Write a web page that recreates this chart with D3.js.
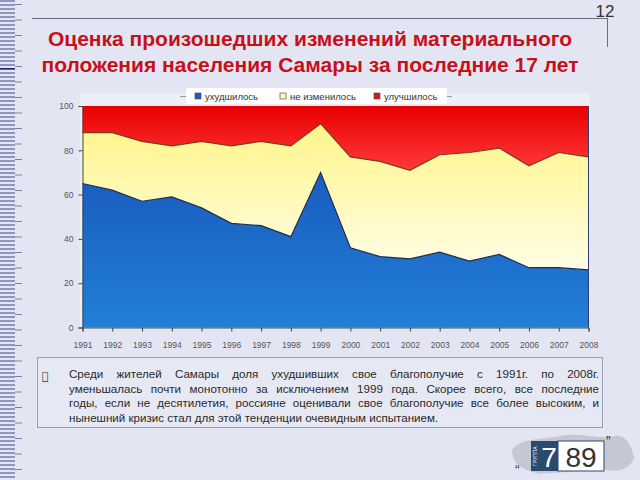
<!DOCTYPE html>
<html><head><meta charset="utf-8">
<script src="https://cdn.jsdelivr.net/npm/d3@7"></script>
<style>
body{margin:0;background:#e3e5f3;font-family:"Liberation Sans",Arial,sans-serif;}
#wrap{position:relative;width:640px;height:480px;overflow:hidden;}
svg{position:absolute;left:0;top:0;}
#note{position:absolute;left:37px;top:357px;width:566px;height:71px;border:1px solid #9a9cad;background:#e6e8f4;box-sizing:border-box;}
#note .b{position:absolute;left:4px;top:12px;font-size:11px;color:#333;font-family:"DejaVu Sans";}
#note .t{position:absolute;left:31px;top:9px;width:530px;font-size:11.6px;line-height:14.6px;color:#2a2a2a;}
#note .t div{text-align:justify;text-align-last:justify;white-space:nowrap;}
#note .t div.last{text-align-last:left;}
</style></head>
<body><div id="wrap"><svg id="chart" width="640" height="480"></svg>
<div id="note"><span class="b">&#xF0A7;</span><div class="t">
<div>Среди жителей Самары доля ухудшивших свое благополучие с 1991г. по 2008г.</div>
<div>уменьшалась почти монотонно за исключением 1999 года. Скорее всего, все последние</div>
<div>годы, если не десятилетия, россияне оценивали свое благополучие все более высоким, и</div>
<div class="last">нынешний кризис стал для этой тенденции очевидным испытанием.</div>
</div></div></div>
<script>
const years = ["1991","1992","1993","1994","1995","1996","1997","1998","1999","2000","2001","2002","2003","2004","2005","2006","2007","2008"];
const worse     = [65,62,57,59,54,47,46,41,70,36,32,31,34,30,33,27,27,26];
const unchanged = [23,26,27,23,30,35,38,41,22,41,43,40,44,49,48,46,52,51];
const improved  = [12,12,16,18,16,18,16,18,8,23,25,29,22,21,19,27,21,23];
const seriesNames = ["ухудшилось","не изменилось","улучшилось"];
const yTicks = [0,20,40,60,80,100];
const titleLines = ["Оценка произошедших изменений материального","положения населения Самары за последние 17 лет"];

const svg = d3.select("#chart");
const defs = svg.append("defs");
function grad(id, c1, c2){
  const g = defs.append("linearGradient").attr("id",id).attr("x1",0).attr("y1",0).attr("x2",0).attr("y2",1);
  g.append("stop").attr("offset","0%").attr("stop-color",c1);
  g.append("stop").attr("offset","100%").attr("stop-color",c2);
}
grad("gBlue","#1a5cbf","#217fd6");
grad("gYellow","#fff58a","#fffde6");
grad("gRed","#e80000","#ff3a3a");

// left striped border
const stripes = svg.append("g");
d3.range(0,480,4).forEach(y=>{
  stripes.append("rect").attr("x",0).attr("y",y).attr("width",15).attr("height",2).attr("fill","#8f96c2");
});
d3.range(4,480,15.5).forEach(y=>{
  stripes.append("rect").attr("x",15).attr("y",y).attr("width",7).attr("height",1).attr("fill","#7a80a8");
});
svg.append("rect").attr("x",0).attr("y",68).attr("width",15).attr("height",1.5).attr("fill","#1a2a80");

// top line + page number
svg.append("line").attr("x1",32).attr("x2",607).attr("y1",18.5).attr("y2",18.5).attr("stroke","#6a6e88").attr("stroke-width",1);
svg.append("line").attr("x1",607.5).attr("x2",607.5).attr("y1",18).attr("y2",47).attr("stroke","#6a6e88").attr("stroke-width",1);
svg.append("text").attr("x",605).attr("y",17).attr("text-anchor","middle").attr("font-size",17).attr("fill","#333").text("12");

// title
svg.append("g").selectAll("text").data(titleLines).join("text")
  .attr("x",310).attr("y",(d,i)=>46+i*26).attr("text-anchor","middle")
  .attr("font-size",21).attr("font-weight","bold").attr("fill","#c8101a").text(d=>d);

// chart
const x = d3.scalePoint().domain(years).range([82.5,588.5]);
const y = d3.scaleLinear().domain([0,100]).range([327.5,106]);

svg.append("rect").attr("x",80).attr("y",93).attr("width",510).attr("height",236).attr("fill","#eceef7");

const rows = years.map((yr,i)=>({year:yr, a:worse[i], b:unchanged[i], c:improved[i]}));
const stack = d3.stack().keys(["a","b","c"])(rows);
const fills = ["url(#gBlue)","url(#gYellow)","url(#gRed)"];
const area = d3.area().x(d=>x(d.data.year)).y0(d=>y(d[0])).y1(d=>y(d[1]));
svg.append("g").selectAll("path").data(stack).join("path")
  .attr("d",area).attr("fill",(d,i)=>fills[i]);
const line = d3.line().x(d=>x(d.data.year)).y(d=>y(d[1]));
svg.append("g").selectAll("path").data(stack.slice(0,2)).join("path")
  .attr("d",line).attr("fill","none").attr("stroke",(d,i)=>i==0?"#1d2d4a":"#7a3a20").attr("stroke-width",1.2);
svg.append("line").attr("x1",588.5).attr("x2",588.5).attr("y1",106).attr("y2",327.5).attr("stroke","#2a3a70");

// axes
const yAxis = svg.append("g").attr("transform","translate(82.5,0)")
  .call(d3.axisLeft(y).tickValues(yTicks).tickSize(4).tickPadding(5));
const xAxis = svg.append("g").attr("transform","translate(0,327.5)")
  .call(d3.axisBottom(x).tickSize(4).tickPadding(10));
[yAxis,xAxis].forEach(a=>{
  a.select(".domain").attr("stroke","#444");
  a.selectAll(".tick line").attr("stroke","#444");
  a.selectAll("text").attr("fill","#555").attr("font-size",8.5).attr("font-family","Liberation Sans, Arial");
});

// legend
const lg = svg.append("g");
lg.append("line").attr("x1",180).attr("x2",452).attr("y1",96.5).attr("y2",96.5).attr("stroke","#999");
lg.append("rect").attr("x",186).attr("y",88).attr("width",261).attr("height",16).attr("fill","#ffffff");
const legX = [195,280,374];
const legC = ["#1f5bb5","#fff8b0","#d81818"];
seriesNames.forEach((n,i)=>{
  lg.append("rect").attr("x",legX[i]).attr("y",93).attr("width",6).attr("height",6).attr("fill",legC[i]).attr("stroke","#555").attr("stroke-width",0.7);
  lg.append("text").attr("x",legX[i]+10).attr("y",100).attr("font-size",9.5).attr("fill","#333").text(n);
});

// logo
const lgo = svg.append("g");
lgo.append("path").attr("d","M512,450 C520,438 540,440 560,436 C580,432 600,440 615,436 C625,434 632,445 634,458 C630,470 615,474 600,468 C585,472 560,472 540,474 C525,470 512,466 512,450 Z").attr("fill","#c5c8d2");
lgo.append("rect").attr("x",531).attr("y",441).attr("width",27).attr("height",30).attr("fill","#2a4a6e");
lgo.append("rect").attr("x",558).attr("y",441).attr("width",46).attr("height",30).attr("fill","#ffffff").attr("stroke","#2a4a6e");
lgo.append("text").attr("transform","translate(537,466) rotate(-90)").attr("font-size",5).attr("fill","#fff").text("ГРУППА");
lgo.append("text").attr("x",549).attr("y",467).attr("text-anchor","middle").attr("font-size",28).attr("fill","#fff").text("7");
lgo.append("text").attr("x",581).attr("y",467).attr("text-anchor","middle").attr("font-size",28).attr("fill","#333").text("89");
lgo.append("text").attr("x",515).attr("y",475).attr("font-size",14).attr("fill","#333").text("“");
lgo.append("text").attr("x",606).attr("y",446).attr("font-size",14).attr("fill","#333").text("”");
</script></body></html>
